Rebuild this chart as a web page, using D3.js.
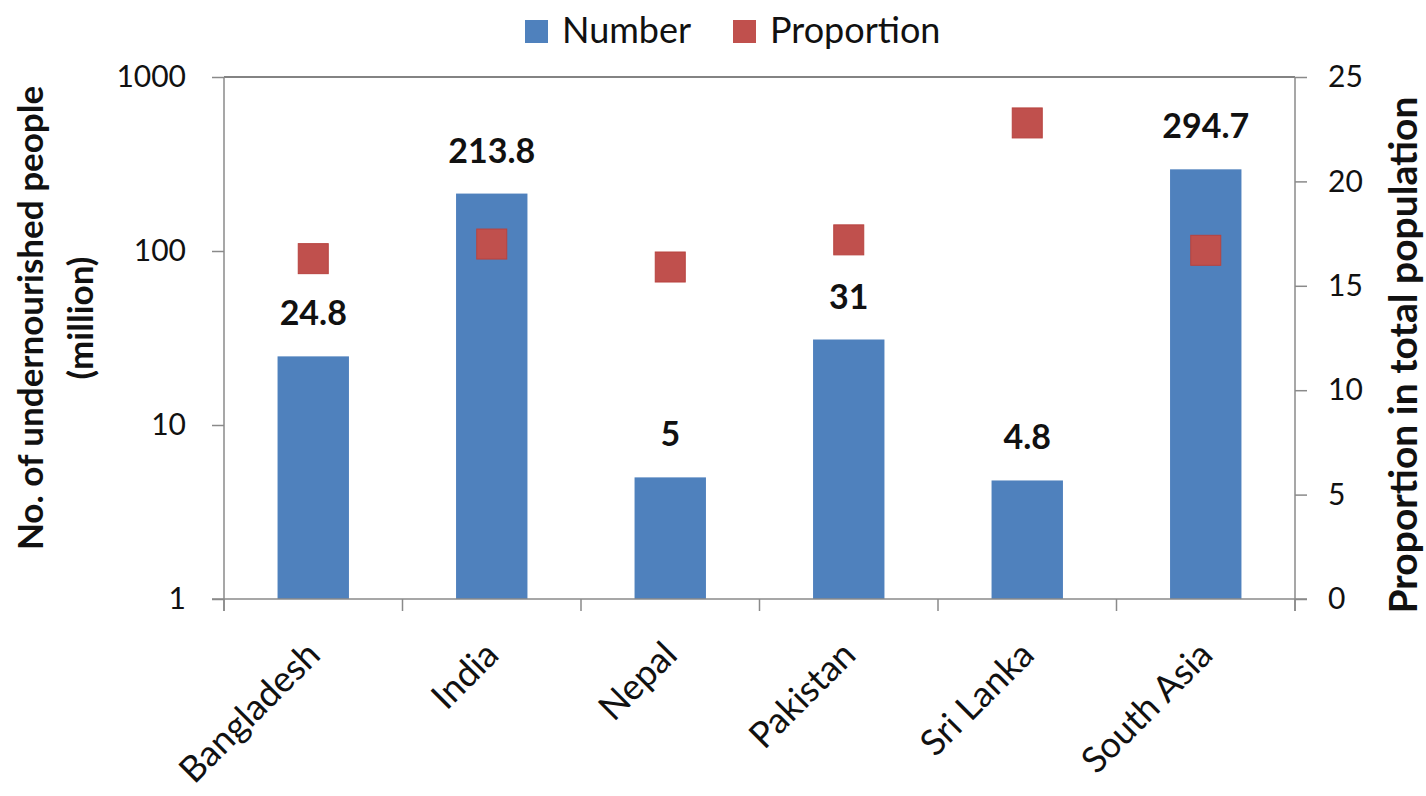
<!DOCTYPE html>
<html><head><meta charset="utf-8">
<script src="https://cdn.jsdelivr.net/npm/d3@7"></script>
<style>body{margin:0;background:#fff}svg{display:block}text{font-family:Lato,"Noto Sans",sans-serif}</style>
</head><body>
<svg id="c" width="1426" height="796"></svg>
<script>
const categories = ["Bangladesh","India","Nepal","Pakistan","Sri Lanka","South Asia"];
const numberValues = [24.8, 213.8, 5, 31, 4.8, 294.7];
const proportionValues = [16.3, 17.0, 15.9, 17.2, 22.8, 16.7];
const leftTicks = [1, 10, 100, 1000];
const rightTicks = [0, 5, 10, 15, 20, 25];
const seriesNames = ["Number","Proportion"];
const colors = {Number:"#4F81BD", Proportion:"#C0504D"};

const svg = d3.select("#c");
const m = {left:224, right:1295, top:77, bottom:599};

const x = d3.scaleBand().domain(categories).range([m.left, m.right]).paddingInner(0.6).paddingOuter(0.3);
const yL = d3.scaleLog().domain([1,1000]).range([m.bottom, m.top]);
const yR = d3.scaleLinear().domain([0,25]).range([m.bottom, m.top]);

// top border
svg.append("line").attr("x1",m.left).attr("x2",m.right).attr("y1",m.top).attr("y2",m.top)
  .attr("stroke","#5a5a5a").attr("stroke-width",1.5);

// bars
svg.selectAll("rect.bar").data(categories).enter().append("rect")
  .attr("x",d=>x(d)).attr("width",x.bandwidth())
  .attr("y",(d,i)=>yL(numberValues[i])).attr("height",(d,i)=>m.bottom-yL(numberValues[i]))
  .attr("fill",colors.Number);

// value labels
svg.selectAll("text.val").data(categories).enter().append("text")
  .attr("x",d=>x(d)+x.bandwidth()/2).attr("y",(d,i)=>yL(numberValues[i])-31)
  .attr("text-anchor","middle").attr("font-weight","bold").attr("font-size",34).attr("fill","#111")
  .text((d,i)=>numberValues[i]);

// markers
const ms = 30;
svg.selectAll("rect.mk").data(categories).enter().append("rect")
  .attr("x",d=>x(d)+x.bandwidth()/2-ms/2).attr("y",(d,i)=>yR(proportionValues[i])-ms/2)
  .attr("width",ms).attr("height",ms).attr("fill",colors.Proportion)
  .attr("stroke","#B8433F").attr("stroke-width",1);

// left axis
const gL = svg.append("g").attr("transform",`translate(${m.left},0)`)
  .call(d3.axisLeft(yL).tickValues(leftTicks).tickFormat(d3.format("d")).tickSizeOuter(0).tickSize(12).tickPadding(26));
// right axis
const gR = svg.append("g").attr("transform",`translate(${m.right},0)`)
  .call(d3.axisRight(yR).tickValues(rightTicks).tickSizeOuter(0).tickSize(12).tickPadding(21));
// bottom axis
const xEdges = d3.range(categories.length+1).map(i=>m.left + i*(m.right-m.left)/categories.length);
const gB = svg.append("g");
gB.append("line").attr("x1",m.left-12).attr("x2",m.right+12).attr("y1",m.bottom).attr("y2",m.bottom).attr("stroke","#8a8a8a").attr("stroke-width",1.5);
gB.selectAll("line.t").data(xEdges).enter().append("line")
  .attr("x1",d=>d).attr("x2",d=>d).attr("y1",m.bottom).attr("y2",m.bottom+12).attr("stroke","#8a8a8a").attr("stroke-width",1.5);
gL.select(".domain").attr("d",`M0,${m.bottom+12}V${m.top}`);
gR.select(".domain").attr("d",`M0,${m.bottom+12}V${m.top}`);
[gL,gR].forEach(g=>{
  g.selectAll(".domain").attr("stroke","#8a8a8a").attr("stroke-width",1.5);
  g.selectAll(".tick line").attr("stroke","#8a8a8a").attr("stroke-width",1.5);
  g.selectAll(".tick text").attr("font-size",30).attr("fill","#111").attr("font-family","Lato");
});

// x labels
svg.selectAll("text.xl").data(categories).enter().append("text")
  .attr("transform",d=>`translate(${x(d)+x.bandwidth()/2+9},${m.bottom+58}) rotate(-45)`)
  .attr("text-anchor","end").attr("font-size",36).attr("fill","#111").text(d=>d);

// axis titles
svg.append("text").attr("transform","translate(43,318) rotate(-90)").attr("text-anchor","middle")
  .attr("font-weight","bold").attr("font-size",35).attr("fill","#111").text("No. of undernourished people");
svg.append("text").attr("transform","translate(93,318) rotate(-90)").attr("text-anchor","middle")
  .attr("font-weight","bold").attr("font-size",35).attr("fill","#111").text("(million)");
svg.append("text").attr("transform","translate(1417,355) rotate(-90)").attr("text-anchor","middle")
  .attr("font-weight","bold").attr("font-size",39).attr("fill","#111").text("Proportion in total population");

// legend
const lg = svg.append("g");
const legendX = [525, 733];
seriesNames.forEach((s,i)=>{
  lg.append("rect").attr("x",legendX[i]).attr("y",20).attr("width",23).attr("height",23).attr("fill",colors[s]);
  lg.append("text").attr("x",legendX[i]+37).attr("y",43).attr("font-size",36).attr("fill","#111").text(s);
});
</script>
</body></html>
